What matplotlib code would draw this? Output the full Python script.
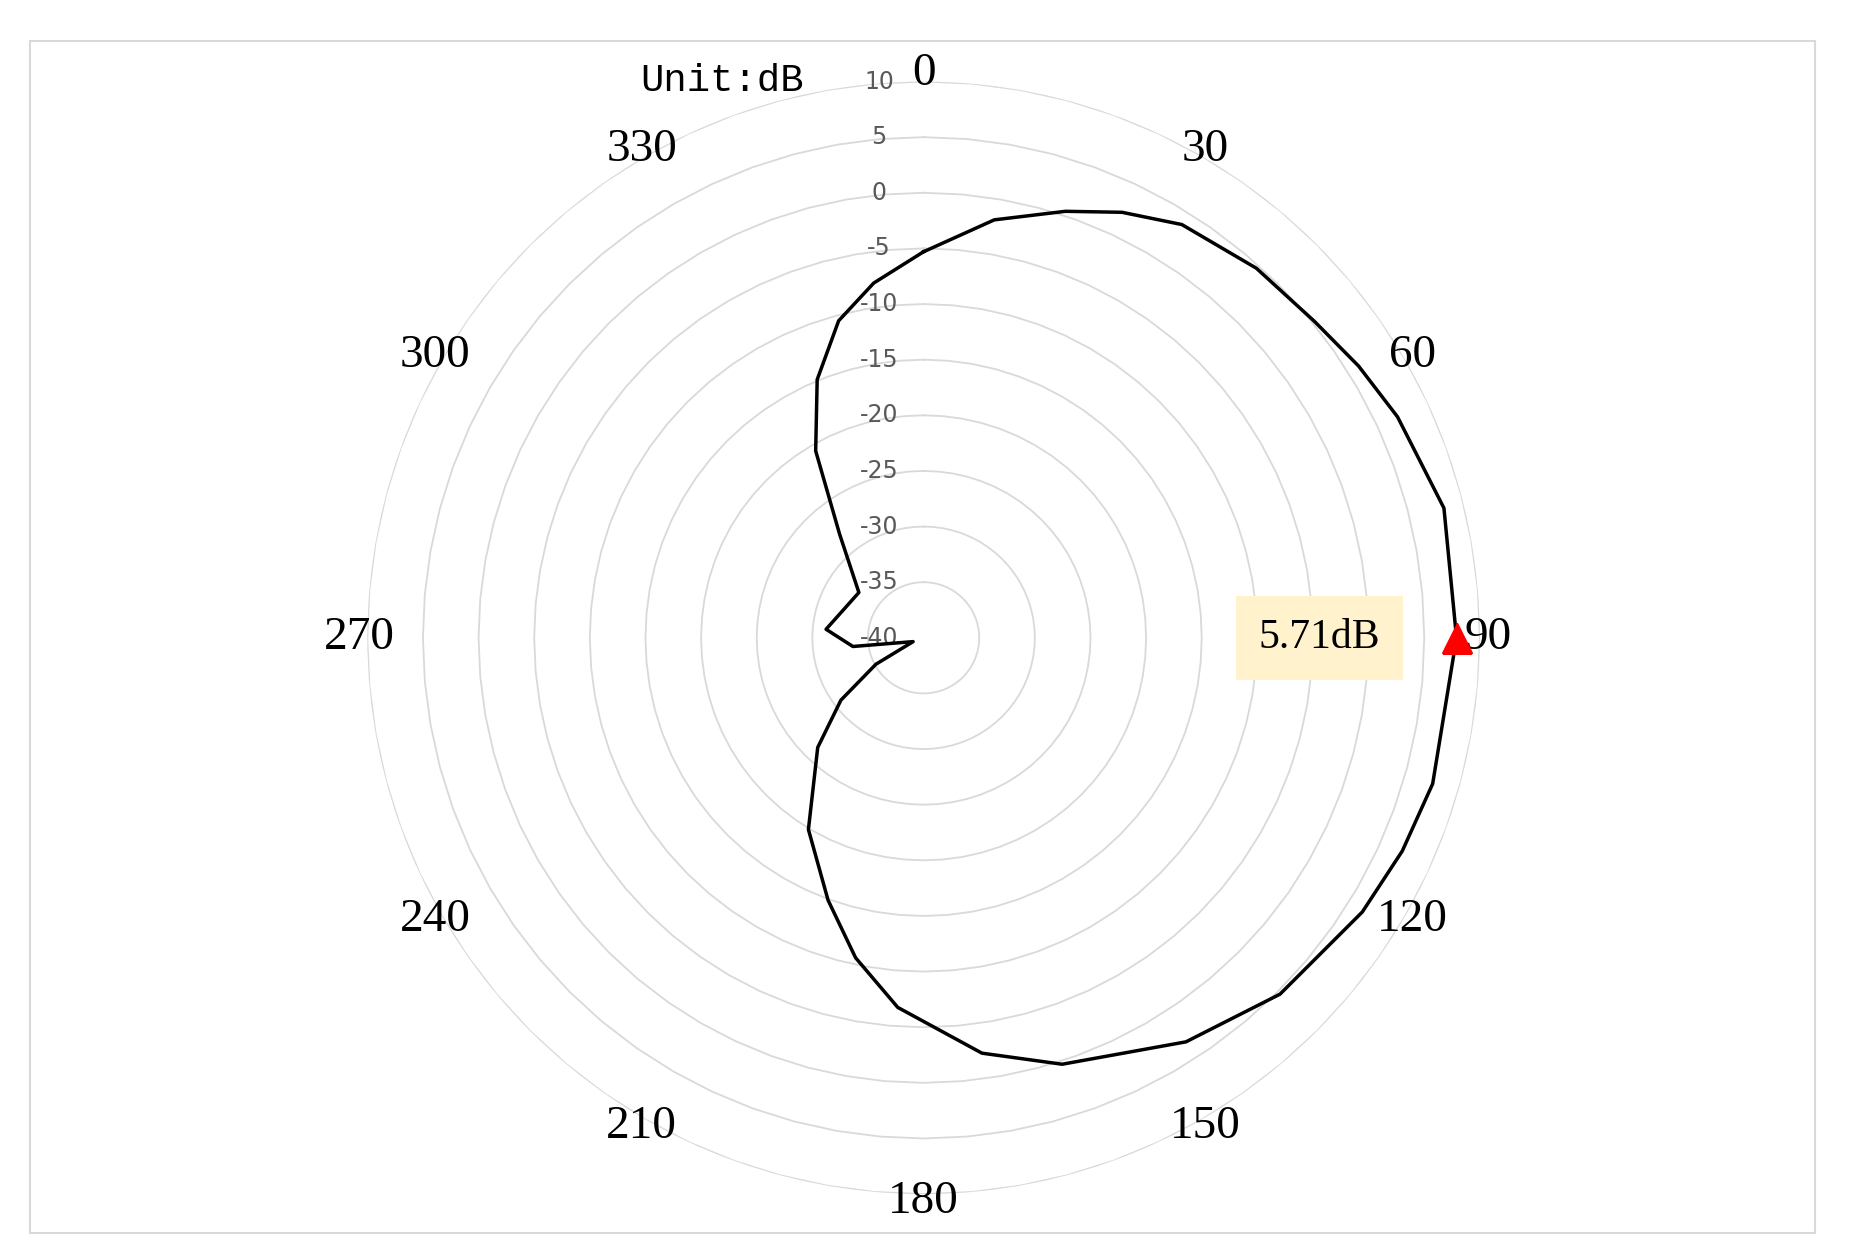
import numpy as np
import matplotlib.pyplot as plt
from matplotlib.patches import Rectangle

angles_deg = [0, 9.6, 18.4, 25, 32, 42, 51, 58, 65, 76, 90, 106, 114, 122, 135, 147, 162, 172, 184, 192, 200, 211,
              224, 233, 241, 250, 263, 275, 305, 321, 330, 337.6, 345, 352, 360]
gain_db = [-5.3, -1.9, 0.4, 2.2, 3.8, 4.7, 5.2, 6.1, 7.0, 8.2, 7.9, 7.6, 7.1, 6.5, 5.3, 3.3, 0.3, -2.3, -6.7, -10.6, -14.9, -19.9,
           -26.3, -30.7, -35.1, -39.0, -33.6, -31.2, -32.9, -28.0, -20.6, -14.9, -10.5, -7.8, -5.3]
r_ticks = [-40, -35, -30, -25, -20, -15, -10, -5, 0, 5, 10]
theta_labels = [0, 30, 60, 90, 120, 150, 180, 210, 240, 270, 300, 330]
peak_label = "5.71dB"
peak_angle = 90

fig = plt.figure(figsize=(18.52, 12.6), dpi=100)
fig.patches.append(Rectangle((25/1564, 1-1041/1064), 1508/1564, 1006/1064, transform=fig.transFigure,
                             fill=False, edgecolor='#d9d9d9', lw=1.5))
ax = fig.add_axes([0.1982, 0.0523, 0.601, 0.883], projection='polar')
ax.set_theta_zero_location('N')
ax.set_theta_direction(-1)
ax.set_ylim(-40, 10)
ax.set_frame_on(False)
ax.grid(False)
ax.set_xticks([])
ax.set_yticks([])

t = np.linspace(0, 2*np.pi, 73)
for rv in r_ticks[1:]:
    ax.plot(t, np.full_like(t, rv), color='#d9d9d9', lw=1.3, zorder=1)
for rv in r_ticks:
    ax.annotate(str(rv), (0, rv), xytext=(-32, 0), textcoords='offset points', ha='center',
                va='center', fontsize=17, color='#595959', family='DejaVu Sans', zorder=3)
for a in theta_labels:
    ax.text(np.deg2rad(a), 10.7, str(a), ha='center', va='center', fontsize=34,
            family='Liberation Serif')

th = np.deg2rad(angles_deg)
ax.plot(th, gain_db, color='black', lw=2.5, zorder=4)
pk = gain_db[angles_deg.index(peak_angle)]
ax.plot([np.deg2rad(peak_angle)], [pk], marker='^', color='red', ms=22, zorder=5)
ax.text(np.deg2rad(peak_angle), pk - 12.3, peak_label, ha='center', va='center', fontsize=30,
        family='Liberation Serif', zorder=5,
        bbox=dict(boxstyle='square,pad=0.55', facecolor='#fff2cc', edgecolor='none'))

fig.text(610/1564, 1-68/1064, "Unit:dB", ha='center', va='center', fontsize=28,
         family='Liberation Mono')
fig.savefig('out.png', dpi=100)
